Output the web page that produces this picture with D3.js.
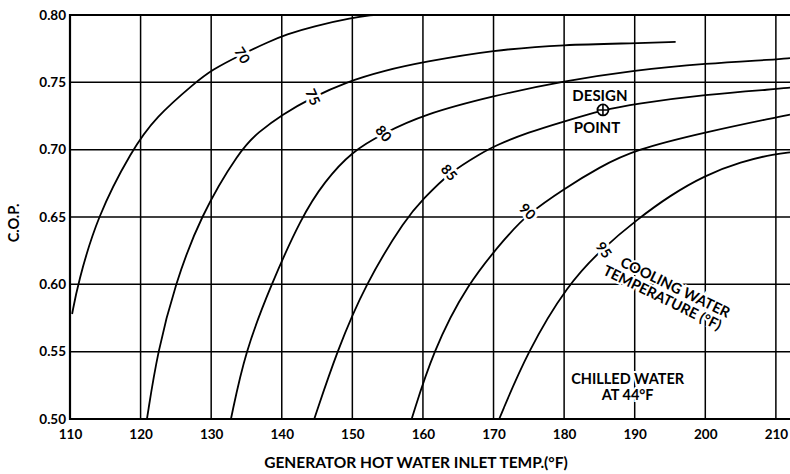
<!DOCTYPE html>
<html>
<head>
<meta charset="utf-8">
<script src="https://cdn.jsdelivr.net/npm/d3@7"></script>
<style>
  body { margin: 0; background: #fff; }
  text { font-family: Lato, "DejaVu Sans", sans-serif; font-weight: 700; fill: #000; }
</style>
</head>
<body>
<div id="chart"></div>
<script>
const width = 790;
const height = 474;
const margin = {top: 15, right: 0, bottom: 55, left: 70};

// cooling water temperature of each curve (°F)
const coolingTemps = [70, 75, 80, 85, 90, 95];

// hot water inlet temp (°F) and C.O.P.
const hot70 = [110.3, 111.1, 113.8, 118.8, 122.1, 127.8, 130, 134.4, 138.1, 140.6, 144.4, 150, 153];
const cop70 = [0.578, 0.600, 0.650, 0.700, 0.724, 0.750, 0.759, 0.771, 0.780, 0.7855, 0.7915, 0.798, 0.800];

const hot75 = [120.9, 122.4, 124.9, 128.4, 134.1, 136.7, 140, 144.4, 149, 154.7, 160, 170, 180, 190, 195.8];
const cop75 = [0.500, 0.550, 0.600, 0.650, 0.700, 0.713, 0.726, 0.739, 0.750, 0.759, 0.765, 0.774, 0.778, 0.779, 0.780];

const hot80 = [132.8, 134.8, 138.5, 142.8, 146, 150, 154.4, 160, 170, 180, 190, 200, 210, 212];
const cop80 = [0.500, 0.550, 0.600, 0.650, 0.676, 0.699, 0.712, 0.726, 0.740, 0.751, 0.759, 0.764, 0.767, 0.768];

const hot85 = [144.6, 147.8, 151.8, 157.7, 160, 163.7, 168.5, 170, 175, 180, 185.5, 190, 200, 210, 212];
const cop85 = [0.500, 0.550, 0.600, 0.650, 0.663, 0.683, 0.698, 0.7025, 0.713, 0.721, 0.7295, 0.734, 0.741, 0.745, 0.746];

const hot90 = [158.4, 161.4, 166.2, 172.1, 174.8, 180, 185, 190, 200, 210, 212];
const cop90 = [0.500, 0.550, 0.600, 0.637, 0.652, 0.671, 0.687, 0.700, 0.713, 0.724, 0.726];

const hot95 = [170.8, 174.8, 180.5, 185.5, 190.3, 195, 200, 205, 210, 212];
const cop95 = [0.500, 0.550, 0.600, 0.627, 0.648, 0.666, 0.681, 0.691, 0.697, 0.698];

const hotSeries = [hot70, hot75, hot80, hot85, hot90, hot95];
const copSeries = [cop70, cop75, cop80, cop85, cop90, cop95];

// where the temperature number sits on each curve
const labelHot = [134.4, 144.4, 154.4, 163.7, 174.8, 185.6];
const labelCop = [0.770, 0.739, 0.712, 0.683, 0.654, 0.6255];
const labelAngle = [58, 65, 50, 50, 45, 55];

const xTicks = [110, 120, 130, 140, 150, 160, 170, 180, 190, 200, 210];
const yTicks = [0.50, 0.55, 0.60, 0.65, 0.70, 0.75, 0.80];

const designHot = 185.5;
const designCop = 0.7295;

const svg = d3.select("#chart").append("svg")
    .attr("width", width)
    .attr("height", height);

const x = d3.scaleLinear().domain([110, 212]).range([margin.left, width - margin.right]);
const y = d3.scaleLinear().domain([0.50, 0.80]).range([height - margin.bottom, margin.top]);

svg.append("defs").append("clipPath").attr("id", "plot")
  .append("rect")
    .attr("x", margin.left).attr("y", margin.top)
    .attr("width", width - margin.left - margin.right)
    .attr("height", height - margin.top - margin.bottom);

// grid
const grid = svg.append("g").attr("stroke", "#000").attr("stroke-width", 1.5);
grid.selectAll(".vx").data(xTicks).join("line")
    .attr("x1", d => x(d)).attr("x2", d => x(d))
    .attr("y1", y(0.80)).attr("y2", y(0.50));
grid.selectAll(".hy").data(yTicks).join("line")
    .attr("x1", x(110)).attr("x2", width)
    .attr("y1", d => y(d)).attr("y2", d => y(d));

// frame: left, top and bottom edges
svg.append("path")
    .attr("d", `M${width},${y(0.80)}H${x(110)}V${y(0.50)}H${width}`)
    .attr("fill", "none").attr("stroke", "#000").attr("stroke-width", 2.2);

// axes (labels only, lines come from the grid)
const xAxis = svg.append("g")
    .attr("transform", `translate(0,${y(0.50)})`)
    .call(d3.axisBottom(x).tickValues(xTicks).tickSize(0).tickPadding(10));
xAxis.select(".domain").remove();
xAxis.selectAll("text").style("font-size", "13.5px").style("font-family", null);

const yAxis = svg.append("g")
    .attr("transform", `translate(${x(110)},0)`)
    .call(d3.axisLeft(y).tickValues(yTicks).tickFormat(d3.format(".2f")).tickSize(0).tickPadding(4));
yAxis.select(".domain").remove();
yAxis.selectAll("text").style("font-size", "13.5px").style("font-family", null);

svg.append("text")
    .attr("x", 416).attr("y", 468)
    .attr("text-anchor", "middle")
    .style("font-size", "15.5px")
    .text("GENERATOR HOT WATER INLET TEMP.(°F)");

svg.append("text")
    .attr("transform", `translate(19,223) rotate(-90)`)
    .attr("text-anchor", "middle")
    .style("font-size", "14.5px")
    .text("C.O.P.");

// curves
const line = d3.line()
    .x(d => x(d[0]))
    .y(d => y(d[1]))
    .curve(d3.curveBasis);

const curves = coolingTemps.map((t, i) => ({
  temp: t,
  pts: hotSeries[i].map((h, j) => [h, copSeries[i][j]])
}));

svg.append("g").attr("clip-path", "url(#plot)")
  .selectAll("path").data(curves).join("path")
    .attr("d", d => line(d.pts))
    .attr("fill", "none")
    .attr("stroke", "#000")
    .attr("stroke-width", 1.8);

// curve labels with white halo to break the line
svg.append("g").selectAll("text").data(coolingTemps).join("text")
    .attr("transform", (d, i) => `translate(${x(labelHot[i])},${y(labelCop[i])}) rotate(${labelAngle[i]})`)
    .attr("text-anchor", "middle")
    .attr("dy", "0.35em")
    .style("font-size", "14px")
    .attr("stroke", "#fff")
    .attr("stroke-width", 6)
    .attr("paint-order", "stroke")
    .text(d => d);

// design point
const dp = svg.append("g").attr("transform", `translate(${x(designHot)},${y(designCop)})`);
dp.append("circle").attr("r", 5.5).attr("fill", "#fff").attr("stroke", "#000").attr("stroke-width", 1.8);
dp.append("path").attr("d", "M-5.5,0H5.5M0,-5.5V5.5").attr("stroke", "#000").attr("stroke-width", 1.6);
dp.append("text").attr("x", -3).attr("y", -9).attr("text-anchor", "middle")
    .style("font-size", "15px").text("DESIGN");
dp.append("text").attr("x", -6).attr("y", 23).attr("text-anchor", "middle")
    .style("font-size", "15px").text("POINT");

// cooling water note
const cw = svg.append("g")
    .attr("transform", `translate(${x(194.6)},${y(0.594)}) rotate(26)`);
cw.selectAll("text").data(["COOLING WATER", "TEMPERATURE (°F)"]).join("text")
    .attr("x", (d, i) => i === 0 ? 5 : -2)
    .attr("y", (d, i) => i === 0 ? -3 : 12)
    .attr("text-anchor", "middle")
    .style("font-size", "14.5px")
    .attr("stroke", "#fff").attr("stroke-width", 4).attr("paint-order", "stroke")
    .text(d => d);

// chilled water note
svg.append("g").selectAll("text").data(["CHILLED WATER", "AT 44°F"]).join("text")
    .attr("x", x(189))
    .attr("y", (d, i) => y(0.5246) - 2 + i * 16)
    .attr("text-anchor", "middle")
    .style("font-size", "14.5px")
    .attr("stroke", "#fff").attr("stroke-width", 4).attr("paint-order", "stroke")
    .text(d => d);
</script>
</body>
</html>
